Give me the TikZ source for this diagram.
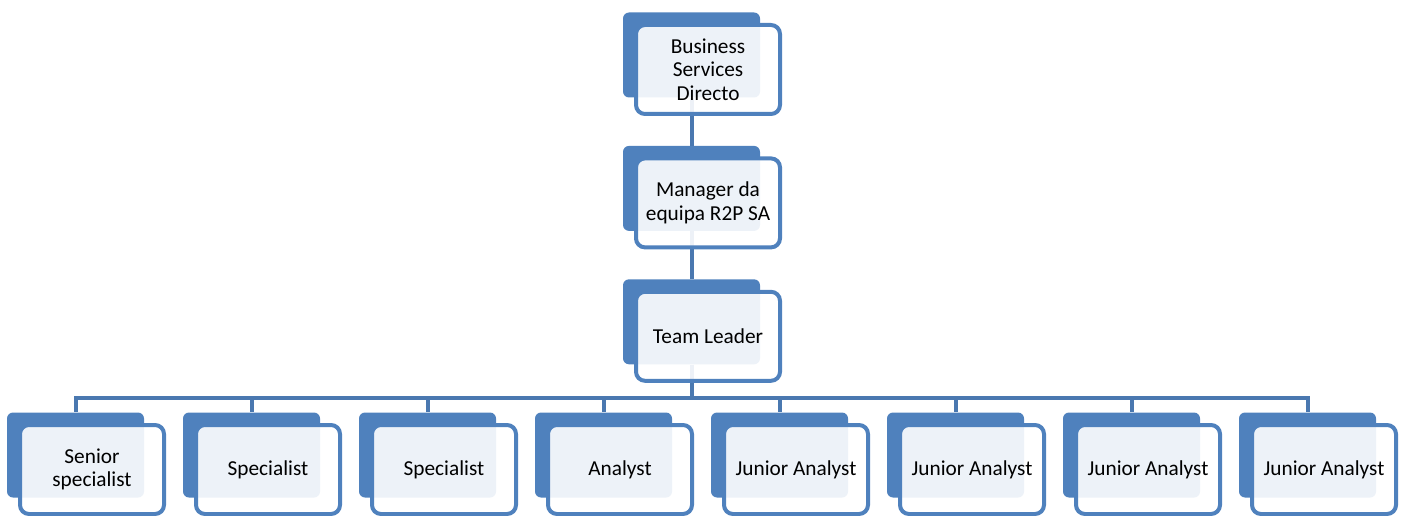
\documentclass[tikz,border=0pt]{standalone}
\usepackage{fontspec}
\setmainfont{Carlito}
\usepackage{xcolor}
\usepackage{tikz}
\usetikzlibrary{positioning}

\definecolor{accentblue}{HTML}{4F81BD}
\definecolor{lineblue}{HTML}{4A78B0}

\begin{document}
\begin{tikzpicture}[x=1pt, y=-1pt, % one unit per pixel, y grows downwards
		node distance=48pt and 39pt,
		back/.style={rectangle, fill=accentblue, rounded corners=6pt, minimum width=137pt, minimum height=85pt, inner sep=0pt},
		front/.style={rectangle, draw=accentblue, line width=4pt, fill=white, fill opacity=0.9, text opacity=1, rounded corners=9pt, minimum width=144pt, minimum height=89pt, inner sep=0pt, align=center, font=\fontsize{21.3}{23.5}\selectfont, xshift=16.5pt, yshift=-14.5pt},
		link/.style={draw=lineblue, line width=4pt}
		]
		\useasboundingbox (0,0) rectangle (1406,516);
		
		% Solid boxes behind the chain
		\node[back] (bsd) at (691.5,55) {};
		\node[back, below=of bsd] (mgr) {};
		\node[back, below=of mgr] (lead) {};
		
		% Solid boxes behind the team row
		\foreach \i in {1,...,8}
			\node[back] (m\i) at ({75.5+176*(\i-1)},455) {};
		
		% Connectors
		\draw[link] (bsd.south) -- (mgr.north);
		\draw[link] (mgr.south) -- (lead.north);
		\path (lead.south) ++(0,33) coordinate (bus);
		\draw[link] (lead.south) -- (bus);
		\foreach \i in {1,...,8}
			\draw[link] (bus) -| (m\i.north);
		
		% Framed boxes with the titles
		\node[front] (bsdf) at (bsd) {Business\\Services\\Directo};
		\node[front] (mgrf) at (mgr) {Manager da\\equipa R2P SA};
		\node[front] (leadf) at (lead) {Team Leader};
		
		\foreach \title [count=\i] in {{Senior\\specialist}, Specialist, Specialist, Analyst,
				Junior Analyst, Junior Analyst, Junior Analyst, Junior Analyst}
			\node[front] (m\i f) at (m\i) {\title};
		
	\end{tikzpicture}
\end{document}
